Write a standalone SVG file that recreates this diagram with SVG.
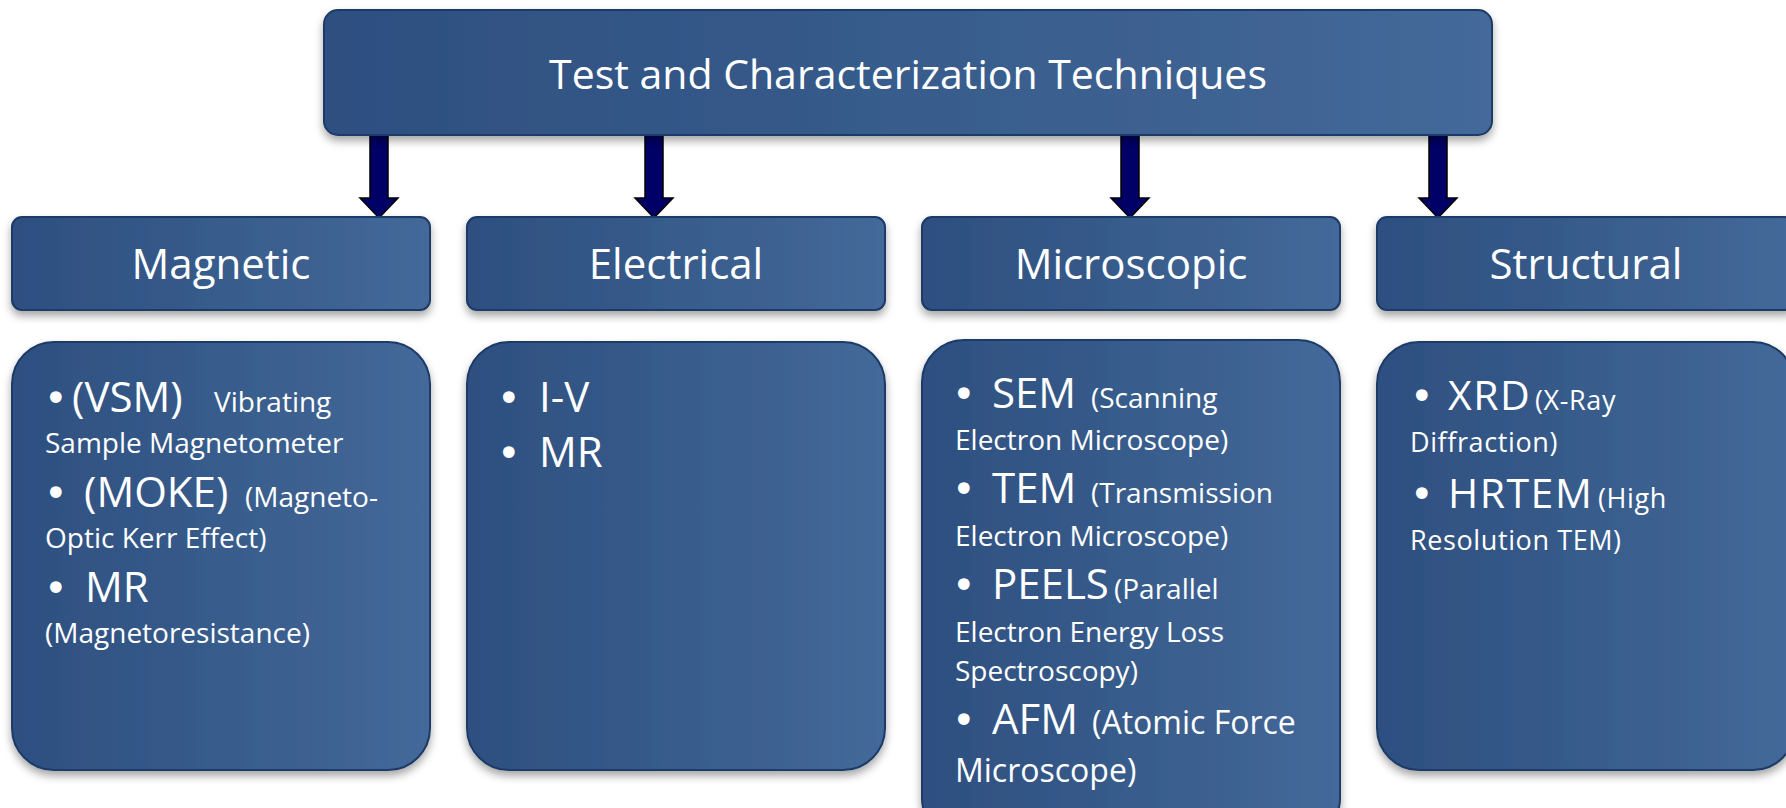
<svg xmlns="http://www.w3.org/2000/svg" width="1786" height="808" viewBox="0 0 1786 808">
  <defs>
    <linearGradient id="boxGrad" x1="0" y1="0" x2="1" y2="0">
      <stop offset="0" stop-color="#2d4f80"/>
      <stop offset="0.5" stop-color="#375c8b"/>
      <stop offset="1" stop-color="#44699a"/>
    </linearGradient>
    <filter id="shadow" x="-5%" y="-5%" width="110%" height="120%">
      <feDropShadow dx="0" dy="5" stdDeviation="4" flood-color="#000" flood-opacity="0.35"/>
    </filter>
  </defs>
  <style>
    .box { fill: url(#boxGrad); stroke: #1d3a66; stroke-width: 2; filter: url(#shadow); }
    .arrow { fill: #000066; stroke: #000; stroke-width: 1.5; stroke-linejoin: miter; }
    text { font-family: "Open Sans", "Noto Sans", "Liberation Sans", sans-serif; fill: #ffffff; }
    .title { font-size: 41px; text-anchor: middle; }
    .cat { font-size: 42px; text-anchor: middle; }
    .bul { font-family: "DejaVu Sans", sans-serif; font-size: 40px; }
    .big { font-size: 42px; }
    .small { font-size: 28px; }
    .mid { font-size: 32px; }
    .sbig { font-size: 41px; letter-spacing: 1.5px; }
    .ssmall { font-size: 27px; letter-spacing: 0.6px; }
  </style>

  <g id="connectors">
    <polygon class="arrow" points="370,135 388,135 388,198 398,198 379,218 360,198 370,198"/>
    <polygon class="arrow" points="645,135 663,135 663,198 673,198 654,218 635,198 645,198"/>
    <polygon class="arrow" points="1121,135 1139,135 1139,198 1149,198 1130,218 1111,198 1121,198"/>
    <polygon class="arrow" points="1429,135 1447,135 1447,198 1457,198 1438,218 1419,198 1429,198"/>
  </g>

  <g id="root">
    <rect class="box" x="324" y="10" width="1168" height="125" rx="14"/>
    <text class="title" x="908" y="89">Test and Characterization Techniques</text>
  </g>

  <g id="magnetic">
    <rect class="box" x="12" y="217" width="418" height="93" rx="10"/>
    <text class="cat" x="221" y="279">Magnetic</text>
  </g>
  <g id="electrical">
    <rect class="box" x="467" y="217" width="418" height="93" rx="10"/>
    <text class="cat" x="676" y="279">Electrical</text>
  </g>
  <g id="microscopic">
    <rect class="box" x="922" y="217" width="418" height="93" rx="10"/>
    <text class="cat" x="1131" y="279">Microscopic</text>
  </g>
  <g id="structural">
    <rect class="box" x="1377" y="217" width="418" height="93" rx="10"/>
    <text class="cat" x="1586" y="279">Structural</text>
  </g>

  <g id="magnetic-list">
    <rect class="box" x="12" y="342" width="418" height="428" rx="42"/>
    <text x="44" y="412"><tspan class="bul">•</tspan><tspan class="big" x="72">(VSM)</tspan><tspan class="small" x="214">Vibrating</tspan></text>
    <text class="small" x="45" y="453">Sample Magnetometer</text>
    <text x="44" y="507"><tspan class="bul">•</tspan><tspan class="big" x="84">(MOKE)</tspan><tspan class="small" x="245">(Magneto-</tspan></text>
    <text class="small" x="45" y="548">Optic Kerr Effect)</text>
    <text x="44" y="602"><tspan class="bul">•</tspan><tspan class="big" x="85">MR</tspan></text>
    <text class="small" x="45" y="643">(Magnetoresistance)</text>
  </g>

  <g id="electrical-list">
    <rect class="box" x="467" y="342" width="418" height="428" rx="42"/>
    <text x="497" y="412"><tspan class="bul">•</tspan><tspan class="big" x="539">I-V</tspan></text>
    <text x="497" y="467"><tspan class="bul">•</tspan><tspan class="big" x="539">MR</tspan></text>
  </g>

  <g id="microscopic-list">
    <rect class="box" x="922" y="340" width="418" height="500" rx="42"/>
    <text x="952" y="408"><tspan class="bul">•</tspan><tspan class="big" x="992">SEM</tspan><tspan class="small" x="1091">(Scanning</tspan></text>
    <text class="small" x="955" y="450">Electron Microscope)</text>
    <text x="952" y="503"><tspan class="bul">•</tspan><tspan class="big" x="992">TEM</tspan><tspan class="small" x="1091">(Transmission</tspan></text>
    <text class="small" x="955" y="546">Electron Microscope)</text>
    <text x="952" y="599"><tspan class="bul">•</tspan><tspan class="big" x="992">PEELS</tspan><tspan class="small" x="1114">(Parallel</tspan></text>
    <text class="small" x="955" y="642">Electron Energy Loss</text>
    <text class="small" x="955" y="681">Spectroscopy)</text>
    <text x="952" y="734"><tspan class="bul">•</tspan><tspan class="big" x="992">AFM</tspan><tspan class="mid" x="1092">(Atomic Force</tspan></text>
    <text class="mid" x="955" y="782">Microscope)</text>
  </g>

  <g id="structural-list">
    <rect class="box" x="1377" y="342" width="418" height="428" rx="42"/>
    <text x="1410" y="410"><tspan class="bul">•</tspan><tspan class="sbig" x="1448">XRD</tspan><tspan class="ssmall" x="1535">(X-Ray</tspan></text>
    <text class="ssmall" x="1410" y="452">Diffraction)</text>
    <text x="1410" y="508"><tspan class="bul">•</tspan><tspan class="sbig" x="1448">HRTEM</tspan><tspan class="ssmall" x="1598">(High</tspan></text>
    <text class="ssmall" x="1410" y="550">Resolution TEM)</text>
  </g>
</svg>
